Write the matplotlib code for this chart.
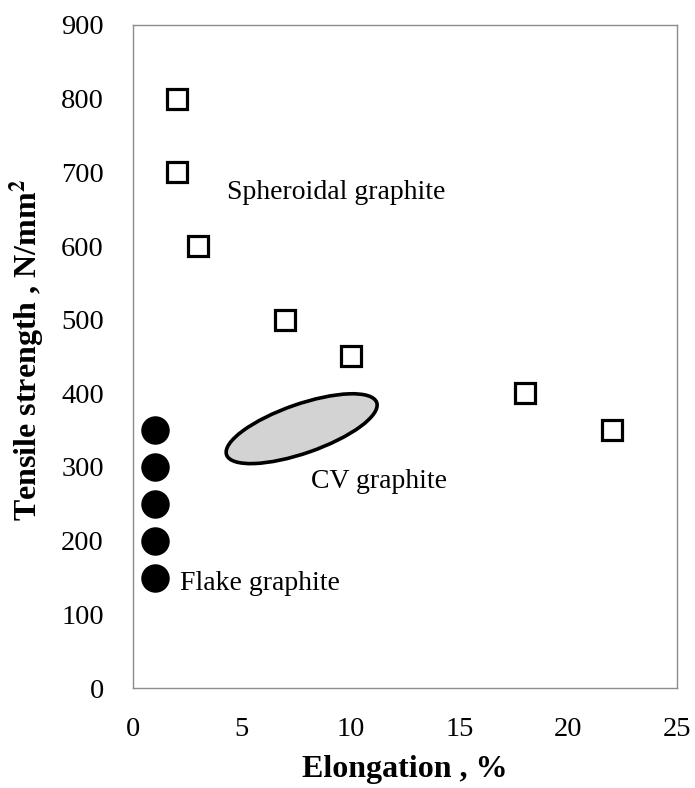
import matplotlib
matplotlib.use("Agg")
import matplotlib.pyplot as plt
from matplotlib.patches import Ellipse
from matplotlib.transforms import ScaledTranslation

# spheroidal graphite (open squares)
sg_elong = [2, 2, 3, 7, 10, 18, 22]
sg_tensile = [800, 700, 600, 500, 450, 400, 350]
# flake graphite (filled circles)
fg_elong = [1, 1, 1, 1, 1]
fg_tensile = [350, 300, 250, 200, 150]
# CV graphite region (ellipse centre in data units)
cv_center = (7.75, 352)

x_ticks = [0, 5, 10, 15, 20, 25]
y_ticks = [0, 100, 200, 300, 400, 500, 600, 700, 800, 900]

plt.rcParams["font.family"] = ["Liberation Serif", "DejaVu Serif"]
plt.rcParams["mathtext.fontset"] = "stix"

fig = plt.figure(figsize=(6.95, 7.88), dpi=100)
ax = fig.add_axes([133 / 695, 100 / 788, 544 / 695, 663 / 788])

ax.plot(sg_elong, sg_tensile, "s", ms=14.5, mfc="white", mec="black", mew=2.3, zorder=3)
ax.plot(fg_elong, fg_tensile, "o", ms=19.5, mfc="black", mec="black", zorder=3)

# CV region: ellipse sized in inches, placed at its data centre
off = ScaledTranslation(cv_center[0], cv_center[1], ax.transData)
ax.add_patch(Ellipse((0, 0), 1.59, 0.49, angle=19.2, facecolor="#d3d3d3",
                     edgecolor="black", lw=2.6, transform=fig.dpi_scale_trans + off, zorder=2))

ax.text(4.3, 672, "Spheroidal graphite", fontsize=20, va="center", ha="left")
ax.text(8.2, 280, "CV graphite", fontsize=20, va="center", ha="left")
ax.text(2.15, 142, "Flake graphite", fontsize=20, va="center", ha="left")

ax.set_xlim(0, 25)
ax.set_ylim(0, 900)
ax.set_xticks(x_ticks)
ax.set_yticks(y_ticks)
ax.tick_params(length=0, labelsize=20.5, pad=21)

for sp in ax.spines.values():
    sp.set_color("#8c8c8c")
    sp.set_linewidth(1.0)

ax.set_xlabel("Elongation , %", fontsize=23, fontweight="bold", va="center")
ax.xaxis.set_label_coords(0.5, (688 - 770) / 663)
ax.set_ylabel("Tensile strength , N/mm$^\\mathbf{2}$", fontsize=23, fontweight="bold", va="center")
ax.yaxis.set_label_coords((27 - 133) / 544, (688 - 350) / 663)

fig.savefig("out.png", dpi=100)
